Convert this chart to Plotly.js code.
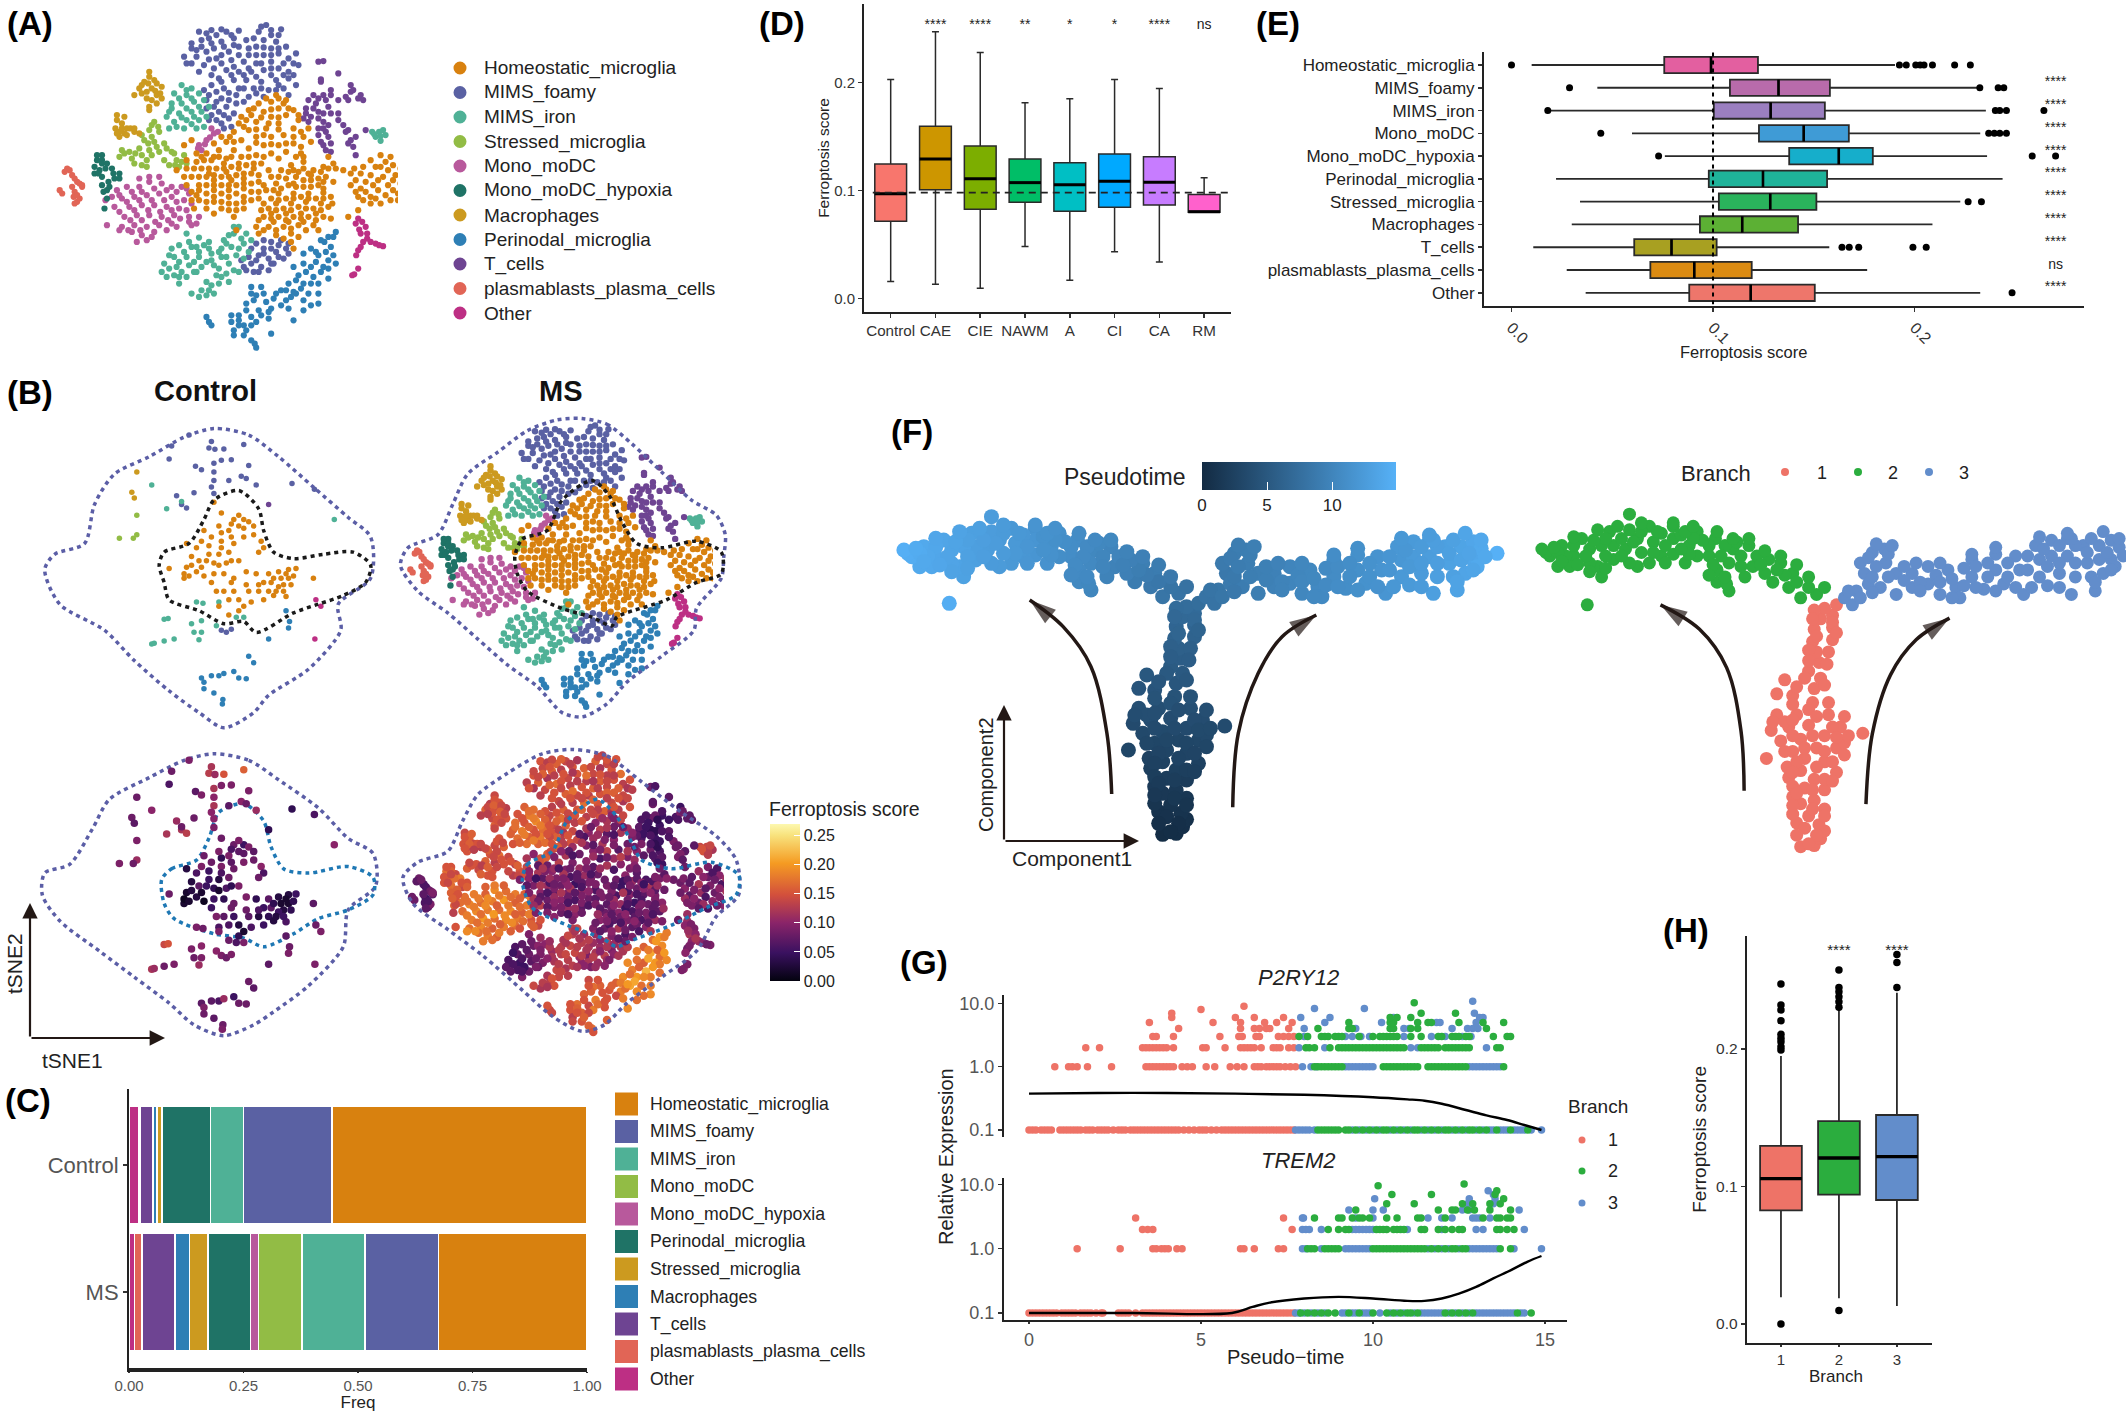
<!DOCTYPE html>
<html><head><meta charset="utf-8">
<script src="https://cdn.plot.ly/plotly-3.0.1.min.js"></script>
<style>html,body{margin:0;padding:0;background:#fff}#c{width:2128px;height:1413px}</style></head>
<body><div id="c"></div>
<script>
const W=2128,H=1413,FONT='"Liberation Sans",Arial,Helvetica,sans-serif';
const homeostatic=[[520,310,10],[545,305,12],[570,310,9],[590,330,11],[560,325,8],[530,335,13],[505,345,10],[575,345,12],[545,350,7],[600,360,9],[515,365,11],[480,370,14],[560,370,10],[590,385,8],[535,385,12],[500,390,9],[470,395,11],[610,410,10],[570,405,7],[545,410,13],[515,410,10],[485,420,8],[455,425,12],[590,430,9],[560,435,11],[530,435,6],[500,445,10],[470,450,9],[440,450,13],[415,460,8],[575,455,10],[545,460,12],[515,465,7],[485,470,11],[455,475,9],[425,480,10],[395,485,12],[375,505,10],[405,505,7],[435,505,9],[465,500,6],[495,495,11],[525,490,8],[385,530,9],[415,530,11],[445,530,8],[475,525,5],[505,520,9],[400,555,10],[430,555,7],[460,555,9],[490,550,11],[520,545,6],[385,575,12],[415,580,8],[445,580,10],[475,580,6],[505,575,8],[430,605,9],[460,610,11],[490,605,7],[400,600,13],[445,625,8],[475,630,10],[390,625,9],[595,470,9],[610,485,7],[585,495,10],[565,510,8],[600,515,11],[630,510,6],[545,530,9],[575,535,5],[610,540,8],[640,535,12],[660,505,9],[670,490,7],[650,565,9],[625,560,7],[595,560,10],[565,565,6],[535,570,9],[545,595,7],[575,595,11],[605,590,5],[635,595,8],[665,590,10],[660,620,7],[630,625,9],[600,620,6],[570,625,10],[540,625,8],[530,650,10],[560,650,7],[590,650,9],[620,650,6],[650,650,11],[540,680,8],[570,680,12],[600,675,7],[630,675,10],[555,705,9],[585,700,6],[515,680,9],[520,700,11],[590,745,13],[585,725,8],[475,690,12],[470,650,9],[705,520,8],[715,540,10],[730,500,7],[745,480,11],[765,465,9],[785,470,6],[790,495,10],[765,500,8],[745,525,12],[770,530,9],[795,525,6],[815,515,10],[725,565,7],[750,555,11],[780,555,8],[805,550,12],[820,570,9],[800,580,7],[775,585,10],[745,590,8],[715,575,11],[730,600,9],[765,610,6],[800,600,10],[700,650,8],[720,630,11],[370,435,12],[385,420,10],[555,285,10],[575,300,14],[500,330,12],[580,325,8],[495,360,6],[540,370,9],[462,410,7],[605,440,11],[430,470,11],[410,480,9],[450,490,12],[480,490,7],[510,505,9],[540,510,8],[420,520,6],[455,515,10],[490,520,7],[430,540,9],[465,540,12],[400,570,7],[430,570,11],[460,570,8],[490,565,9],[580,515,5],[610,505,7],[555,550,9],[590,550,6],[625,540,10],[650,545,7],[560,580,11],[590,580,8],[620,580,6],[650,578,9],[555,610,8],[585,610,5],[615,605,9],[645,610,7],[545,640,10],[575,640,8],[605,640,7],[635,640,9],[550,665,6],[580,665,10],[610,665,8]];
const homeostaticExtra=[[535,295,11],[560,295,9],[510,325,8],[545,328,12],[600,345,10],[485,350,7],[525,352,11],[560,352,6],[620,385,9],[490,380,12],[515,388,7],[560,388,9],[605,395,8],[445,410,10],[530,405,9],[590,410,12],[625,425,7],[470,425,6],[515,428,11],[545,432,8],[575,430,13],[430,430,9],[605,460,10],[395,460,7],[440,470,6],[500,470,9],[530,470,11],[560,475,6],[375,480,10],[405,470,12],[465,470,8],[355,510,9],[390,505,5],[420,505,11],[450,505,9],[480,505,7],[510,490,6],[370,530,7],[400,530,12],[430,525,8],[460,530,10],[490,535,6],[520,525,9],[375,555,9],[415,555,6],[445,555,12],[475,555,7],[505,550,10],[395,585,8],[430,590,10],[460,590,6],[490,590,9],[520,575,7],[385,600,11],[415,605,7],[445,605,9],[475,610,11],[505,600,6],[415,625,9],[460,630,6],[430,640,10],[490,625,8],[610,470,8],[590,510,7],[620,520,10],[645,515,6],[655,530,11],[530,555,9],[560,530,7],[595,530,9],[625,525,5],[670,545,8],[640,555,10],[610,560,6],[580,555,12],[550,570,8],[520,595,9],[530,610,7],[560,600,10],[590,595,6],[620,595,9],[650,595,7],[668,610,11],[645,630,6],[615,625,8],[585,630,10],[555,630,7],[525,630,11],[520,660,8],[545,655,9],[575,660,6],[605,655,10],[635,660,7],[665,655,9],[530,690,7],[555,690,10],[585,685,8],[615,690,6],[640,690,12],[570,715,7],[600,710,9],[690,510,8],[712,505,9],[725,520,7],[755,500,10],[775,485,6],[805,505,11],[780,510,8],[735,545,9],[760,540,7],[790,540,10],[815,535,12],[705,555,8],[735,575,10],[760,570,6],[790,570,9],[815,590,7],[755,595,11],[785,600,8],[720,590,9],[745,610,7],[660,470,8],[675,505,10],[650,500,9]];
const foamy=[[400,95,15],[415,100,13],[435,105,16],[455,95,14],[480,92,12],[470,115,15],[445,125,13],[425,130,16],[405,120,14],[535,75,13],[565,88,15],[520,95,16],[545,105,14],[530,120,12],[555,125,15],[575,140,17],[545,145,13],[515,140,14],[385,145,15],[370,170,13],[395,170,16],[415,155,12],[480,140,15],[460,155,14],[500,165,13],[530,165,16],[560,160,15],[580,175,13],[545,185,14],[515,190,16],[490,185,15],[465,180,13],[435,175,17],[410,195,14],[385,190,12],[430,205,15],[455,210,16],[480,215,14],[505,215,13],[530,210,15],[560,205,16],[590,190,12],[440,235,14],[470,240,13],[495,240,17],[525,245,15],[555,240,14],[580,235,12],[595,255,15],[570,265,13],[540,270,16],[510,265,14],[480,265,15],[450,265,16],[425,255,13],[420,285,14],[445,295,17],[475,285,15],[500,290,13],[530,290,15],[430,320,14],[455,320,16],[475,310,13],[425,345,15],[450,345,12],[470,340,14],[445,370,13],[465,380,15],[435,360,16],[580,285,14],[555,270,12],[490,800,10],[505,790,12],[500,770,9],[520,765,12],[530,745,11],[545,725,13],[565,720,10],[575,745,12],[555,755,9],[540,775,13],[525,800,11],[560,770,10],[580,760,12],[510,815,9],[545,790,11],[530,720,10]];
const foamyExtra=[[425,90,14],[445,88,16],[465,105,13],[420,115,15],[385,130,14],[405,140,16],[430,145,13],[450,140,15],[470,135,12],[495,120,16],[510,115,14],[545,90,15],[560,105,13],[525,80,14],[500,145,17],[530,142,15],[560,145,13],[595,160,15],[570,190,16],[545,165,14],[515,165,12],[480,165,13],[445,165,15],[420,178,16],[395,150,14],[375,190,15],[400,215,13],[425,225,15],[445,190,14],[470,200,17],[500,205,15],[525,190,13],[545,205,16],[580,215,14],[570,225,15],[545,225,13],[515,230,16],[490,225,14],[465,225,15],[445,245,13],[435,275,15],[460,278,14],[490,265,16],[525,265,13],[560,255,15],[590,225,14],[600,195,13],[410,270,15],[415,300,14],[435,305,16],[460,300,13],[490,305,15],[515,280,14],[415,325,15],[440,335,13],[460,355,15],[420,360,14],[450,385,13],[485,780,11],[495,810,10],[515,780,13],[530,760,10],[545,745,12],[560,735,11],[570,775,12],[550,790,9],[540,810,10],[520,815,11],[580,730,13],[505,745,12],[515,730,11]];
const iron=[[365,255,16],[385,265,17],[350,280,15],[375,285,18],[400,280,16],[345,310,17],[365,310,15],[390,305,19],[340,335,16],[360,340,18],[385,335,15],[405,335,17],[350,365,17],[375,360,16],[400,360,18],[415,350,15],[340,385,15],[370,385,17],[395,385,16],[375,700,9],[400,712,11],[360,735,7],[385,740,8],[410,735,10],[345,745,6],[350,770,7],[375,770,8],[400,770,9],[425,760,11],[330,790,6],[355,800,5],[380,795,7],[405,800,9],[325,815,7],[350,825,6],[375,830,8],[360,850,9],[430,795,12],[445,770,13],[465,740,14],[490,730,13],[450,720,12],[470,700,13],[495,700,11],[480,680,14],[500,755,12],[475,765,14],[460,790,13],[435,825,14],[455,820,12],[470,810,13],[440,850,14],[420,870,13],[400,890,12],[430,880,15],[445,745,13],[425,780,12],[395,815,8],[415,845,12],[762,395,14],[775,405,12],[755,410,15],[765,422,13],[748,395,14],[812,425,16]];
const ironExtra=[[375,270,17],[360,295,15],[385,295,18],[410,300,16],[345,325,17],[375,325,16],[400,320,18],[420,320,15],[335,350,16],[365,352,18],[390,350,15],[410,380,17],[355,380,16],[385,372,18],[380,725,8],[395,740,10],[370,755,7],[340,765,5],[360,785,6],[390,785,8],[415,785,10],[340,805,6],[365,815,5],[390,815,9],[335,830,7],[360,830,6],[420,745,12],[440,755,13],[455,730,12],[480,745,13],[460,705,14],[485,715,12],[505,720,13],[470,680,13],[455,770,14],[490,775,13],[440,805,13],[460,845,13],[445,830,14],[425,855,15],[405,870,13],[415,885,12],[385,880,14],[400,755,9],[420,725,11],[765,408,13],[752,402,15],[770,390,14],[810,435,15],[818,422,14],[480,815,12]];
const stressed=[[310,365,15],[300,390,14],[320,395,16],[290,420,15],[310,425,17],[330,430,14],[280,445,16],[300,450,13],[320,455,15],[260,455,15],[240,470,16],[265,475,14],[295,480,15],[345,455,13],[355,480,15],[370,465,14],[360,500,16],[340,495,13],[285,495,15],[305,410,14]];
const stressedExtra=[[305,375,15],[318,380,14],[285,405,16],[298,430,14],[315,440,15],[272,460,13],[250,460,15],[285,465,16],[305,465,14],[335,445,15],[350,460,16],[352,495,14],[375,490,13],[330,480,14],[365,485,15],[270,490,16],[295,500,15],[245,450,14]];
const monoMoDC=[[235,570,17],[255,560,18],[280,560,16],[300,545,19],[325,550,17],[345,560,18],[365,560,16],[380,580,17],[245,595,19],[270,590,17],[295,585,18],[320,580,20],[345,590,16],[370,600,18],[230,620,17],[260,620,19],[285,615,18],[310,615,17],[335,620,19],[360,625,16],[250,650,18],[275,645,20],[300,645,17],[325,650,19],[350,645,18],[245,680,17],[270,675,19],[295,680,16],[320,675,18],[345,670,17],[285,705,18],[305,710,16],[265,695,17],[240,690,19],[380,650,15],[395,670,14],[385,675,16],[400,435,15],[415,420,16],[430,400,14],[425,385,15],[405,450,17],[280,535,16],[215,675,15],[275,725,18]];
const monoExtra=[[265,575,18],[240,585,17],[285,575,19],[310,565,18],[335,570,17],[355,575,16],[375,565,18],[255,605,18],[280,600,19],[305,600,16],[330,600,18],[355,605,17],[385,610,16],[240,635,18],[270,630,17],[298,630,20],[322,635,19],[345,630,16],[375,630,18],[262,660,17],[285,660,18],[312,665,16],[338,660,19],[362,655,17],[258,690,19],[282,690,17],[310,695,18],[335,690,16],[295,720,17],[355,680,15],[380,665,16],[400,650,15],[412,432,16],[422,412,14],[398,445,15],[438,395,16],[212,600,16],[225,590,17],[300,530,18],[320,530,16]];
const hypoxia=[[205,465,15],[195,480,17],[215,490,14],[200,510,16],[225,505,18],[240,520,15],[205,530,17],[230,535,14],[205,555,16],[215,570,15],[210,625,13],[215,595,14],[190,520,15]];
const hypoxiaExtra=[[205,480,16],[190,500,15],[212,505,17],[228,520,15],[198,520,14],[218,545,16],[205,490,14],[240,535,16],[220,560,15],[208,575,16],[195,465,15]];
const macrophages=[[300,215,14],[310,240,15],[290,245,13],[280,265,16],[305,265,14],[325,260,13],[315,285,15],[295,295,14],[270,285,13],[325,295,15],[300,320,16],[300,330,14],[235,345,14],[245,370,16],[232,385,15],[255,385,14],[270,395,13],[240,410,15],[250,400,16]];
const macroExtra=[[300,230,15],[285,255,14],[298,250,16],[315,250,14],[295,275,15],[285,280,13],[312,272,16],[322,280,14],[305,300,15],[315,310,14],[235,360,15],[250,350,16],[240,395,14],[262,385,15],[245,385,16],[270,385,14],[235,400,15],[255,405,13],[280,400,14]];
const perinodal=[[675,695,18],[660,710,20],[645,720,17],[665,740,19],[625,745,16],[610,760,18],[640,765,21],[660,780,17],[675,790,19],[650,800,20],[625,800,16],[600,825,18],[630,830,22],[660,835,17],[580,850,19],[610,850,20],[640,850,18],[565,870,16],[595,880,21],[620,880,17],[575,900,18],[640,910,19],[550,895,15],[530,880,16],[505,860,14],[515,885,17],[545,925,15],[520,930,18],[495,910,16],[505,950,14],[480,945,17],[465,965,15],[490,975,16],[515,965,18],[540,955,15],[470,990,13],[490,1005,15],[420,965,14],[512,1030,17],[545,1000,16],[590,960,19],[610,930,17]];
const periExtra=[[670,710,18],[652,725,20],[635,755,18],[655,755,16],[670,765,20],[610,790,17],[635,785,21],[660,805,18],[590,800,19],[615,815,16],[645,815,20],[595,840,17],[625,850,19],[575,870,18],[605,865,21],[555,880,16],[585,890,17],[610,900,19],[640,880,18],[535,905,15],[510,900,16],[525,860,15],[565,915,14],[495,930,15],[480,960,16],[505,975,14],[525,945,17],[465,945,15],[480,975,15],[495,990,16],[540,935,15],[470,1005,14],[505,1020,16],[580,925,18],[415,950,15],[425,975,14],[515,1042,15],[590,875,20],[625,915,17],[505,880,15]];
const tCells=[[640,185,8],[650,183,6],[680,220,7],[645,245,8],[705,255,5],[720,295,7],[695,290,6],[665,285,5],[640,295,8],[620,300,6],[705,275,9],[730,300,7],[615,340,6],[640,335,4],[660,320,5],[680,340,7],[620,365,6],[650,365,5],[690,375,9],[715,410,7],[640,405,8],[660,410,6],[650,435,7],[665,455,5],[700,430,9],[655,395,4],[715,465,8],[735,390,7]];
const tExtra=[[645,238,7],[665,270,6],[650,285,8],[630,285,6],[710,270,8],[725,285,7],[700,300,6],[680,300,5],[655,300,4],[635,310,5],[615,325,7],[630,325,5],[650,340,4],[665,340,6],[625,350,5],[640,355,6],[610,355,7],[660,375,5],[700,390,8],[705,420,9],[650,385,4],[645,425,6],[665,430,7],[655,450,5],[640,385,6],[710,440,7],[680,360,6],[695,395,8]];
const plasmaCells=[[135,505,8],[145,525,6],[155,545,9],[165,560,7],[150,575,5],[125,580,8],[155,605,7],[160,595,9],[148,590,6]];
const plasmaExtra=[[130,515,7],[140,510,8],[150,535,6],[160,550,8],[145,560,7],[155,585,6],[120,570,8],[150,610,7],[165,555,9]];
const otherCells=[[720,655,11],[735,680,9],[725,700,12],[730,725,10],[720,750,8],[745,725,11],[770,738,9],[755,730,10],[712,822,10],[720,805,9]];
const otherExtra=[[715,670,10],[728,665,9],[722,688,11],[738,700,10],[725,740,9],[738,715,12],[762,735,8],[716,765,10],[708,825,9]];
const mainClusters=[foamy.concat(foamyExtra),iron.concat(ironExtra),stressed.concat(stressedExtra),monoMoDC.concat(monoExtra),hypoxia.concat(hypoxiaExtra),macrophages.concat(macroExtra),perinodal.concat(periExtra),tCells.concat(tExtra),plasmaCells.concat(plasmaExtra),otherCells.concat(otherExtra),homeostatic.concat(homeostaticExtra)];
// ---------- Control sample, coordinates: [x, y, score x100]
const ctrlHomeo=[[430,305,9],[470,345,8],[490,345,5],[500,350,9],[480,360,7],[460,370,9],[445,375,4],[425,385,8],[405,395,9],[395,410,6],[420,405,5],[445,395,9],[465,385,7],[490,385,9],[510,380,8],[525,395,10],[530,410,6],[420,425,5],[440,425,3],[460,420,8],[385,430,3],[400,440,7],[430,445,4],[455,445,6],[480,440,9],[375,455,2],[395,465,3],[430,470,5],[450,470,4],[370,480,2],[340,458,8],[410,475,1],[495,465,9],[515,470,4],[540,470,7],[560,465,3],[580,460,3],[595,458,5],[565,480,2],[580,480,2],[570,495,3],[585,495,4],[530,490,5],[545,490,7],[540,510,4],[560,500,5],[520,510,3],[495,495,8],[470,480,8],[630,480,7],[505,535,6],[550,520,3],[575,522,6],[480,530,3],[470,510,5],[450,510,7],[435,510,9],[480,555,4],[460,565,8],[490,545,2],[445,330,8],[465,355,6],[480,335,9],[490,365,7],[440,360,9],[410,370,8],[375,400,3],[415,440,5],[445,410,6],[470,400,8],[510,360,7],[520,420,8],[440,450,2],[465,440,4],[385,450,3],[405,455,2],[370,470,1],[425,490,5],[380,475,2],[520,495,6],[550,480,4],[575,470,2],[555,510,3],[530,530,5],[500,510,7],[465,490,8],[570,510,5],[590,475,4],[460,530,6],[440,545,9]];
const ctrlFoamy=[[380,150,9],[425,165,12],[420,180,13],[432,183,11],[450,182,15],[490,172,16],[345,175,8],[340,205,6],[393,222,7],[405,230,9],[430,215,12],[430,235,10],[430,255,12],[425,270,10],[430,285,10],[445,208,9],[465,207,9],[500,220,9],[460,255,7],[485,245,10],[495,250,8],[515,265,11],[355,290,11],[365,310,12],[375,318,13],[390,283,8],[587,262,4],[632,275,6],[445,600,9],[455,605,8],[465,598,9]];
const ctrlIron=[[305,265,10],[365,303,8],[335,320,12],[672,345,10],[395,535,9],[408,538,8],[440,535,6],[330,575,14],[338,573,15],[385,585,9],[405,578,10],[390,605,8],[405,605,9],[400,622,11],[350,620,9],[330,625,8],[305,632,12],[310,630,11],[435,590,10],[490,570,9],[475,570,6]];
const ctrlStressed=[[275,335,9],[275,380,11],[268,388,8],[240,388,9]];
const ctrlMacro=[[265,282,8],[270,295,7],[275,235,8]];
const ctrlTcell=[[540,310,4]];
const ctrlOther=[[645,545,9],[635,530,8],[633,620,9]];
const ctrlPeri=[[405,710,7],[410,720,9],[425,705,7],[440,705,6],[450,700,11],[470,695,5],[480,710,8],[495,712,8],[430,745,7],[448,760,8],[447,770,9],[510,675,7],[500,660,8],[575,555,7],[582,580,8],[580,595,9],[540,620,7],[410,735,8]];
const ctrlClusters=[ctrlFoamy,ctrlIron,ctrlStressed,ctrlMacro,ctrlTcell,ctrlOther,ctrlPeri,ctrlHomeo];
const tsneColors=['#5a61a3','#4fb196','#92bc45','#b8599c','#1f7366','#cc9a1f','#2e7fb5','#6e4492','#e16556','#bd2f84','#d8810f'];
const ctrlColors=['#5a61a3','#4fb196','#92bc45','#cc9a1f','#6e4492','#bd2f84','#2e7fb5','#d8810f'];
// ---------- region outlines in panel B
const outlineCtrlTop=[[430,135],[500,150],[560,200],[630,270],[700,340],[745,385],[745,480],[680,540],[685,600],[620,690],[540,750],[510,790],[450,825],[400,790],[340,740],[270,670],[210,600],[120,540],[90,460],[110,425],[170,400],[190,310],[230,240],[300,200],[370,155],[430,135]];
const outlineMsTop=[[1170,112],[1220,125],[1270,170],[1330,235],[1390,300],[1440,335],[1458,380],[1455,430],[1450,480],[1400,550],[1395,600],[1330,660],[1260,720],[1220,770],[1170,800],[1130,790],[1080,730],[1020,680],[960,620],[900,560],[840,510],[805,450],[820,410],[880,380],[910,310],[940,240],[1000,190],[1060,140],[1120,115],[1170,112]];
const outlineCtrlBot=[[430,885],[500,900],[560,945],[640,1010],[700,1080],[750,1115],[755,1190],[700,1245],[690,1330],[620,1420],[550,1480],[510,1510],[450,1535],[390,1510],[340,1460],[270,1400],[200,1340],[120,1270],[85,1210],[90,1160],[140,1140],[185,1060],[220,990],[300,940],[370,900],[430,885]];
const outlineMsBot=[[1150,875],[1220,890],[1290,950],[1370,1020],[1440,1075],[1480,1130],[1485,1210],[1440,1260],[1400,1340],[1330,1400],[1260,1460],[1215,1510],[1170,1525],[1110,1490],[1050,1430],[970,1350],[900,1290],[830,1230],[810,1170],[840,1135],[900,1110],[930,1040],[960,980],[1020,930],[1090,885],[1150,875]];
const innerCtrlTop=[[320,450],[330,420],[380,400],[410,345],[430,300],[480,278],[520,320],[530,370],[550,420],[590,435],[650,425],[710,420],[745,450],[735,490],[690,520],[640,540],[590,560],[515,605],[490,580],[450,585],[400,555],[340,530],[330,490],[320,450]];
const innerMsTop=[[1035,430],[1050,390],[1100,370],[1130,300],[1190,255],[1225,290],[1250,350],[1280,400],[1330,410],[1400,395],[1450,420],[1450,470],[1400,490],[1340,530],[1240,570],[1230,590],[1190,570],[1130,550],[1060,510],[1040,470],[1035,430]];
const innerCtrlBot=[[325,1175],[345,1150],[395,1130],[420,1080],[440,1020],[490,1000],[530,1040],[545,1100],[570,1150],[620,1160],[700,1145],[750,1170],[750,1210],[700,1245],[640,1265],[590,1300],[530,1330],[490,1310],[430,1300],[350,1265],[330,1230],[325,1175]];
const innerMsBot=[[1050,1180],[1060,1140],[1110,1110],[1140,1040],[1200,990],[1240,1030],[1270,1090],[1290,1130],[1350,1150],[1430,1135],[1485,1165],[1480,1210],[1420,1240],[1350,1280],[1260,1320],[1240,1330],[1210,1310],[1140,1280],[1070,1240],[1050,1180]];
// ---------- panel A / C legends
const legendA=['Homeostatic_microglia','MIMS_foamy','MIMS_iron','Stressed_microglia','Mono_moDC','Mono_moDC_hypoxia','Macrophages','Perinodal_microglia','T_cells','plasmablasts_plasma_cells','Other'];
const legendC=['Homeostatic_microglia','MIMS_foamy','MIMS_iron','Mono_moDC','Mono_moDC_hypoxia','Perinodal_microglia','Stressed_microglia','Macrophages','T_cells','plasmablasts_plasma_cells','Other'];
const legendColors=['#d8810f','#5a61a3','#4fb196','#92bc45','#b8599c','#1f7366','#cc9a1f','#2e7fb5','#6e4492','#e16556','#bd2f84'];
// ---------- panel C (stack order left to right)
const cStackNames=['Other','plasmablasts_plasma_cells','T_cells','Macrophages','Stressed_microglia','Perinodal_microglia','Mono_moDC_hypoxia','Mono_moDC','MIMS_iron','MIMS_foamy','Homeostatic_microglia'];
const cStackColors=['#bd2f84','#e16556','#6e4492','#2e7fb5','#cc9a1f','#1f7366','#b8599c','#92bc45','#4fb196','#5a61a3','#d8810f'];
const cControl=[.022,.003,.027,.009,.011,.106,0,0,.072,.193,.557];
const cMS=[.012,.016,.072,.032,.040,.093,.018,.095,.137,.161,.324];
// ---------- panel D
const dCats=['Control','CAE','CIE','NAWM','A','CI','CA','RM'];
const dLow=[.0155,.013,.0093,.048,.0167,.0433,.0337,.0798];
const dQ1=[.0714,.1008,.0825,.089,.0807,.0844,.0866,.0798];
const dMed=[.097,.1292,.111,.1073,.1054,.1085,.1076,.0804];
const dQ3=[.1246,.1595,.1413,.1292,.1258,.1338,.1314,.0964];
const dHigh=[.203,.2473,.2281,.1815,.1852,.203,.1947,.1119];
const dColors=['#F8766D','#CD9600','#7CAE00','#00BE67','#00BFC4','#00A9FF','#C77CFF','#FF61CC'];
const dSig=['','****','****','**','*','*','****','ns'];
const dRef=.098;
// ---------- panel E
const eCats=['Homeostatic_microglia','MIMS_foamy','MIMS_iron','Mono_moDC','Mono_moDC_hypoxia','Perinodal_microglia','Stressed_microglia','Macrophages','T_cells','plasmablasts_plasma_cells','Other'];
const eLow=[.01,.0426,.018,.0598,.0761,.0221,.034,.0299,.0108,.0274,.0368];
const eQ1=[.0758,.1084,.1004,.1228,.1378,.0979,.1029,.0935,.0609,.0689,.0882];
const eMed=[.099,.1325,.1286,.145,.1624,.1248,.1284,.1145,.0794,.0907,.1187];
const eQ3=[.1223,.158,.1555,.1674,.1793,.1566,.1513,.1422,.1018,.1192,.1505];
const eHigh=[.1903,.2318,.2354,.2326,.236,.2437,.2227,.2089,.1577,.1765,.2326];
const eColors=['#e35fa0','#b86bab','#9b7fc0','#3f9bd6','#16aecb','#1fb39a','#2ab35c','#5cb034','#a8a021','#db8b12','#ee766b'];
const eOut=[[0,.1925,.1959,.2006,.2028,.2047,.2089,.2199,.2277],[.0288,.2324,.2415,.2443],[.018,.2401,.2423,.2456,.2642],[.0443,.2368,.2396,.2423,.2456],[.073,.2584,.27],[],[.2266,.2332],[],[.164,.1676,.1723,.1992,.2058],[],[.2484]];
const eSig=['****','****','****','****','****','****','****','****','ns','****'];
const eSigRows=[.78,1.78,2.78,3.78,4.78,5.78,6.78,7.78,8.8,9.78];
const eRef=.1;
// ---------- panel F: trajectory [Component1, Component2, pseudotime]
const stem=[[355,1303,.2],[372,1300,.3],[380,1280,.5],[385,1258,.7],[350,1235,.8],[378,1240,.9],[365,1215,1.0],[345,1210,1.1],[385,1195,1.3],[355,1180,1.5],[372,1170,1.6],[345,1160,1.7],[385,1140,1.9],[360,1135,2.0],[340,1105,2.2],[372,1110,2.3],[400,1090,2.5],[355,1085,2.5],[338,1075,2.6],[385,1060,2.8],[360,1050,2.9],[312,1050,3.0],[345,1030,3.0],[400,1020,3.1],[375,1020,3.1],[330,1000,3.3],[410,1005,3.3],[355,995,3.4],[385,985,3.5],[318,970,3.5],[340,960,3.7],[365,955,3.7],[405,960,3.7],[433,978,3.6],[325,925,4.0],[350,925,4.0],[390,925,4.0],[370,890,4.4],[345,870,4.6],[325,865,4.6],[372,850,4.8],[335,825,5],[380,820,5.1],[365,800,5.3],[378,775,5.6],[375,745,5.9],[370,715,6.2],[395,710,6.2],[372,680,6.5],[395,675,6.5],[380,650,6.9],[395,640,7.0],[385,620,7.3],[400,610,7.4],[372,625,7.2],[395,660,6.9],[370,650,6.8],[375,700,6.4],[400,690,6.3],[365,740,5.9],[390,745,5.9],[388,780,5.6],[365,770,5.6],[360,820,5.1],[385,840,4.9],[350,845,4.8],[345,895,4.4],[365,910,4.3],[390,890,4.3],[335,945,3.9],[320,945,3.8],[345,940,3.9],[375,930,3.9],[410,930,3.9],[395,960,3.7],[345,985,3.5],[370,985,3.5],[400,990,3.4],[415,985,3.4],[335,1030,3.1],[360,1020,3.1],[385,1030,3],[410,1040,3],[350,1060,2.8],[375,1075,2.7],[395,1060,2.8],[345,1090,2.5],[370,1140,2],[345,1130,2.1],[385,1110,2.2],[395,1115,2.2],[350,1150,1.8],[370,1195,1.4],[345,1185,1.5],[360,1250,.8],[385,1215,1.1],[350,1270,.6],[375,1270,.5],[365,1295,.3]];
const leftArm=[[375,580,8],[355,590,8.2],[340,560,8.6],[345,520,9],[320,545,9],[330,490,9.3],[310,520,9.5],[295,500,9.7],[290,440,10],[300,470,9.9],[270,450,10.3],[285,530,9.8],[265,570,10.1],[250,545,10.4],[265,490,10.4],[248,420,10.9],[240,470,10.9],[225,400,11.2],[225,470,11],[215,440,11.4],[210,490,11.5],[195,385,11.6],[195,420,11.8],[195,465,11.8],[180,470,12],[180,405,12],[165,385,12.1],[170,430,12.2],[165,490,12.2],[150,500,12.4],[150,420,12.3],[140,350,12.6],[140,395,12.6],[135,450,12.7],[115,400,13],[120,480,13],[120,440,12.9],[105,530,13.2],[105,440,13.3],[100,500,13.3],[90,490,13.5],[90,450,13.4],[80,420,13.6],[70,470,13.7],[65,500,13.9],[50,500,14],[55,440,14],[40,470,14.4],[35,460,14.5],[30,450,14.7],[87,610,14.5],[365,560,8.1],[350,545,8.5],[335,525,8.9],[325,510,9.2],[315,480,9.5],[305,495,9.6],[280,470,10.1],[280,500,10],[275,430,10.3],[260,440,10.6],[255,470,10.6],[250,510,10.6],[262,550,10.3],[240,440,10.9],[245,495,10.7],[232,425,11],[220,420,11.2],[215,465,11.3],[205,410,11.4],[205,450,11.4],[210,400,11.4],[185,440,11.9],[185,490,11.9],[175,400,12.1],[170,460,12.2],[155,400,12.4],[155,460,12.4],[145,430,12.6],[140,490,12.5],[130,420,12.8],[130,470,12.8],[110,420,13.1],[110,470,13.1],[110,505,13.1],[95,425,13.4],[90,515,13.3],[85,470,13.5],[70,440,13.8],[60,470,13.9],[50,460,14.2],[45,445,14.3],[55,485,14],[75,495,13.7],[70,415,13.7],[100,395,13.3],[125,385,13],[155,375,12.4],[195,375,11.7],[220,385,11.3],[250,400,10.8],[270,420,10.5],[290,420,10.3],[310,455,9.8],[330,470,9.5],[350,495,9],[365,530,8.6],[385,560,7.9],[240,525,10.6],[260,530,10.5]];
const rightArm=[[410,590,8],[425,570,8.3],[420,610,8],[435,520,8.6],[445,460,9],[460,450,9.2],[462,490,9.2],[440,550,8.8],[455,560,9],[475,520,9.3],[475,580,9.2],[495,520,9.6],[495,560,9.6],[515,500,10],[515,550,10],[530,580,10.2],[540,510,10.3],[550,560,10.5],[555,590,10.5],[570,480,10.8],[570,530,10.8],[585,565,11],[600,465,11.2],[600,510,11.2],[610,550,11.4],[625,470,11.6],[630,510,11.7],[635,580,11.8],[650,440,12],[655,480,12],[655,530,12.2],[670,425,12.3],[670,470,12.4],[680,520,12.5],[690,420,12.7],[690,470,12.7],[695,580,12.9],[700,530,12.9],[710,440,13],[715,490,13.2],[725,570,13.3],[730,440,13.4],[735,520,13.5],[745,425,13.7],[745,480,13.7],[755,445,14],[750,500,14],[775,460,14.8],[415,570,8.1],[430,590,8.3],[445,575,8.6],[445,530,8.7],[430,490,8.8],[440,475,8.9],[450,500,9],[465,465,9.2],[465,530,9.2],[485,540,9.4],[485,500,9.4],[505,545,9.8],[505,570,9.8],[525,525,10.1],[530,545,10.2],[545,535,10.3],[545,590,10.4],[560,505,10.6],[560,555,10.6],[575,500,10.8],[575,560,10.9],[590,490,11],[590,530,11],[600,570,11.2],[615,490,11.4],[615,530,11.4],[625,560,11.5],[640,470,11.8],[640,510,11.8],[645,560,12],[660,450,12],[665,500,12.2],[665,555,12.3],[680,440,12.4],[680,490,12.5],[680,560,12.5],[700,440,12.8],[700,490,12.8],[695,420,12.8],[715,460,13],[720,530,13.1],[720,420,13.1],[730,480,13.3],[725,545,13.3],[740,460,13.5],[745,510,13.6],[755,420,13.9],[760,470,14],[735,400,13.6],[655,415,12.1],[690,405,12.6],[600,445,11.2],[570,465,10.9],[530,490,10.2],[500,490,9.7],[470,440,9.3],[450,435,9.1]];
const arrowL1=[[291,1182],[285,1000],[265,800],[230,680],[188,600]];
const arrowL2=[[443,1222],[450,1000],[475,820],[505,710],[548,645]];
const arrowR1=[[284,1143],[280,970],[262,790],[228,680],[179,610]];
const arrowR2=[[437,1181],[445,980],[468,810],[500,710],[542,648]];
const pseudoTicks=[0,5,10];
const branchColors=['#ee7367','#2bad3e','#628dcb'];
// ---------- panel G: rows of pseudotime values, by expression level
const p2Branch1=[[.1,[0,.1,.2,.35,.45,.55,.65,.9,1,1.1,1.2,1.3,1.4,1.5,1.65,1.75,1.85,2,2.1,2.2,2.3,2.45,2.6,2.7,2.8,2.95,3.05,3.15,3.25,3.35,3.45,3.55,3.65,3.75,3.85,3.95,4.05,4.15,4.25,4.35,4.5,4.65,4.8,4.95,5.05,5.15,5.3,5.45,5.6,5.7,5.8,5.9,6,6.1,6.2,6.3,6.4,6.5,6.6,6.7,6.8,6.9,7,7.1,7.2,7.3,7.4,7.5,7.6,7.7]],[1,[.75,1.15,1.26,1.4,1.7,2.4,3.4,3.5,3.6,3.7,3.8,3.9,4,4.1,4.2,4.45,4.6,4.75,5.15,5.4,5.85,6.05,6.25,6.55,6.65,6.75,6.9,7,7.1,7.2,7.3,7.45,7.6,7.75]],[2,[1.65,2.05,3.3,3.4,3.5,3.6,3.7,3.8,3.9,4,4.2,5.05,5.15,5.7,6.15,6.25,6.35,6.45,6.55,6.75,7.1,7.2,7.3,7.55,7.7]],[3,[3.6,3.7,4.2,5.55,6.1,6.2,6.6,6.7,7.25,7.4,7.55,7.7]],[4,[4.35,6.15,6.55,6.7,6.9,7,7.55]],[5,[3.5,5.35,6.15,6.85,7.2,7.65]],[6,[4.15,6,6.55,7.4]],[7,[4.15]],[8,[5]],[9,[6.25]]];
const p2Branch2=[[.1,[8.4,8.5,8.6,8.7,8.8,8.9,9,9.2,9.3,9.5,9.7,9.9,10.1,10.3,10.4,10.6,10.8,11,11.2,11.3,11.5,11.7,11.9,12.1,12.2,12.4,12.6,12.8,12.9,13.1,13.3,13.6,14,14.5]],[1,[8.3,8.4,8.5,8.6,8.7,8.8,8.9,9,9.1,10.3,10.4,10.5,10.6,10.7,10.8,10.9,11,11.1,11.2,11.3,11.6,11.7,11.8,11.9,12,12.1,12.2,12.3,12.4,12.5,12.6,12.7,13.8]],[2,[8.05,8.15,8.3,8.75,9,9.1,9.2,9.3,9.4,9.5,9.6,9.7,9.8,9.9,10,10.1,10.2,10.3,10.4,10.5,10.6,10.7,10.8,10.9,11.4,11.5,11.6,11.7,11.8,11.9,12.1,12.2,12.3,12.4,12.5,12.6,12.7,12.8,13.6,13.7]],[3,[7.85,8.1,8.5,8.6,8.7,8.9,9,9.1,9.6,10,10.2,10.3,10.4,10.5,10.6,10.7,11.1,11.4,11.9,12,12.3,12.4,12.5,12.7,12.8,13.5,13.9,14]],[4,[8.4,9.3,9.4,10.5,10.6,11.1,11.3,13.3]],[5,[9.3,10.5,10.6,11.3,11.6,11.7,12.5,13.2,13.8]],[6,[10.5,10.7,11.1]],[7,[11.4,12.4]],[10.2,[11.2]]];
const p2Branch3=[[.1,[7.75,7.85,7.95,8.05,8.15,8.3,9.4,9.6,9.8,10,10.2,10.5,10.7,10.9,11.1,11.4,11.6,11.8,12,12.3,12.5,12.7,13,13.2,13.4,13.5,13.7,13.8,13.9,14.1,14.2,14.3,14.4,14.6,14.9]],[1,[7.95,8.2,8.35,9.2,9.3,9.4,9.5,9.6,9.7,9.8,9.9,10,12.8,12.9,13,13.1,13.2,13.3,13.4,13.5,13.6,13.7]],[2,[7.85,8.6,11.1,11.3,13.3]],[3,[8,9.2,9.4,9.65,9.9,10.9,11.7,12.1,12.6,12.85]],[4,[8,9.5,10.9,11.05,12.3,12.75,12.9,13.05]],[5,[8.6,10.25,11.85,11.95,13]],[6,[7.9,8.75,10.6,13.1,13.2]],[7,[12.95]],[8.3,[8.3,9.75]],[10.8,[12.9]]];
const trBranch1=[[.1,[0,.1,.2,.3,.4,.5,.6,.7,.8,.95,1.05,1.15,1.25,1.35,1.5,1.6,1.7,1.8,1.95,2.1,2.15,2.6,2.7,2.8,2.9,3.1,3.3,3.4,3.5,3.6,3.7,3.8,3.9,4,4.1,4.2,4.3,4.4,4.5,4.6,4.7,4.8,4.9,5,5.1,5.2,5.3,5.4,5.5,5.6,5.7,5.8,5.9,6,6.1,6.2,6.3,6.4,6.5,6.6,6.7,6.8,6.9,7,7.1,7.2,7.3,7.4,7.5,7.6,7.7]],[1,[1.4,2.65,3.6,3.7,3.85,3.95,4.05,4.3,4.45,6.15,6.25,6.55,7.25,7.4]],[2,[3.3,3.45,3.6,7.65]],[3,[3.1,7.4]]];
const trBranch2=[[.1,[7.9,8.1,8.3,8.5,8.7,8.9,9.3,9.6,10,10.4,10.6,10.8,11,11.1,11.3,12.1,12.3,12.5,12.7,12.9,14.2,14.6]],[1,[8.1,8.2,8.3,8.6,8.7,8.8,8.9,9,10,10.1,10.2,10.3,10.4,10.5,10.6,10.7,10.8,10.9,11,11.1,11.2,11.3,11.4,11.5,11.7,11.9,12.1,12.3,12.4,12.6,12.7,13.7,14]],[2,[8.7,9,9.2,9.3,10.1,10.2,10.3,10.4,10.6,10.7,10.8,10.9,11.4,11.5,11.9,12.1,12.3,12.5,12.6,13.6,13.7,13.9,14.1]],[3,[8.3,9,9.1,9.4,9.6,9.7,9.9,10.4,10.7,11.3,11.4,12.1,13.2,13.6,13.7,13.9,14]],[4,[9.5,11.9,12.3,12.4,12.75,12.95,13.4,14]],[5,[10.4,11.2,12.6,12.9,13.4,13.7]],[6,[13.8]],[7,[10.55,11.7,13.55]],[8,[13.6]],[9.6,[10.15]],[10.2,[12.65]]];
const trBranch3=[[.1,[7.75,7.85,8,8.2,8.4,8.6,9.1,9.2,9.4,9.5,9.7,9.8,9.9,10.2,10.5,10.7,10.9,11.2,11.4,11.5,11.6,11.7,11.8,11.9,12,12.2,12.4,12.6,12.8,13,13.1,13.2,13.3,13.4,13.5,13.6,13.7,13.8,13.9,14,14.1,14.3,14.4]],[1,[7.95,8.05,8.5,9.2,9.3,9.4,9.5,9.6,9.7,9.8,9.9,11.6,11.8,12,12.2,12.5,12.8,12.9,13,13.1,13.2,13.3,13.4,13.5,13.6,14.1,14.9]],[2,[7.95,8.05,8.15,8.5,9.4,9.5,9.6,9.7,9.8,9.9,10,11,12,13,13.2,14.4]],[3,[7.95,7.98,9.5,10,11.6,12,12.3,12.9,13,13.1,13.4]],[4,[9.3,10,10.3,12.6,12.8,14.25]],[5,[12.75,13.5]],[6,[10.05,12.8,13.55]],[7,[13.5]],[8,[13.35]]];
const p2CurveT=[0,2,4,6,8,10,11,11.5,12,12.7,13.3,13.9,14.4,14.9];
const p2CurveV=[.375,.385,.385,.375,.36,.33,.305,.29,.26,.207,.17,.144,.12,.1];
const trCurveT=[0,3,5.9,6.5,7,8,9,10,11,11.5,12,12.5,13,13.5,14,14.5,14.9];
const trCurveV=[.1,.1,.1,.124,.145,.168,.178,.168,.154,.154,.168,.2,.255,.345,.46,.63,.77];
// ---------- panel H
const hCats=['1','2','3'];
const hLow=[.0194,.0187,.0131],hQ1=[.0827,.0941,.0902],hMed=[.1057,.1207,.1217],hQ3=[.1295,.1476,.152],hHigh=[.1949,.2284,.241];
const hOut=[[0,.1993,.2017,.2053,.2078,.2107,.2206,.2284,.232,.2473],[.0099,.2303,.2344,.2381,.2417,.2448,.2575],[.2448,.263,.2688]];
const hSig=['','****','****'];
const hSigLevel=.2744;

// ---------- helpers
const xd=(a,b)=>[a/W,b/W], yd=(a,b)=>[1-b/H,1-a/H];
const layout={width:W,height:H,margin:{l:0,r:0,t:0,b:0},paper_bgcolor:'#fff',plot_bgcolor:'rgba(0,0,0,0)',showlegend:false,barmode:'stack',bargap:.07,font:{family:FONT},annotations:[],shapes:[],
 coloraxis:{cmin:0,cmax:.27,colorscale:[[0,'#03020f'],[.18,'#3a1160'],[.37,'#8a2469'],[.55,'#d3503c'],[.75,'#f59b22'],[.93,'#f8e37e'],[1,'#fdf8b0']],
  colorbar:{x:770/W,xanchor:'left',y:1-824/H,yanchor:'top',len:157,lenmode:'pixels',thickness:30,thicknessmode:'pixels',outlinewidth:0,tickvals:[0,.05,.1,.15,.2,.25],ticktext:['0.00','0.05','0.10','0.15','0.20','0.25'],ticks:'inside',tickcolor:'#fff',ticklen:6,tickfont:{size:16,color:'#222'},xpad:0,ypad:0}},
 coloraxis2:{cmin:0,cmax:14.9,colorscale:[[0,'#132B43'],[1,'#56B1F7']],
  colorbar:{orientation:'h',x:1202/W,xanchor:'left',y:1-462/H,yanchor:'top',len:194,lenmode:'pixels',thickness:28,thicknessmode:'pixels',outlinewidth:0,tickvals:pseudoTicks,ticks:'inside',tickcolor:'#fff',ticklen:8,tickfont:{size:17,color:'#222'},xpad:0,ypad:0}}};
const blank={visible:false,fixedrange:true,showgrid:false,zeroline:false};
function axes(n,xdom,xrange,ydom,yrange,xo={},yo={}){
 const s=n===1?'':n;
 layout['xaxis'+s]={...blank,domain:xd(...xdom),range:xrange,anchor:'y'+s,...xo};
 layout['yaxis'+s]={...blank,domain:yd(...ydom),range:yrange,anchor:'x'+s,...yo};
 return {xaxis:'x'+s,yaxis:'y'+s};
}
const axisStyle=(size,color='#333',lw=2,tl=4)=>({visible:true,showline:true,linecolor:'#222',linewidth:lw,ticks:'outside',ticklen:tl,tickwidth:1.5,tickcolor:'#333',tickfont:{size,color,family:FONT},showgrid:false,zeroline:false,fixedrange:true});
function text(t,x,y,size,o={}){layout.annotations.push({xref:'paper',yref:'paper',x:x/W,y:1-y/H,text:t,showarrow:false,xanchor:o.anchor||'center',yanchor:'middle',textangle:o.angle||0,font:{size,family:o.family||FONT,color:o.color||'#111'}});}
function dot(x,y,r,color){layout.shapes.push({type:'circle',xref:'paper',yref:'paper',x0:(x-r)/W,x1:(x+r)/W,y0:1-(y+r)/H,y1:1-(y-r)/H,fillcolor:color,line:{width:0}});}
function swatch(x0,x1,y0,y1,color){layout.shapes.push({type:'rect',xref:'paper',yref:'paper',x0:x0/W,x1:x1/W,y0:1-y1/H,y1:1-y0/H,fillcolor:color,line:{width:0}});}
function arrow(x0,y0,x1,y1){layout.annotations.push({xref:'paper',yref:'paper',x:x1/W,y:1-y1/H,ax:x0-x1,ay:y0-y1,text:'',showarrow:true,arrowhead:2,arrowsize:1.4,arrowwidth:2.2,arrowcolor:'#231815'});}
const col=(a,i)=>a.map(p=>p[i]);
const traces=[];
function outline(ax,pts,color){traces.push({...ax,x:col(pts,0),y:col(pts,1),mode:'lines',line:{color,width:3.5,dash:'4px,4px',shape:'spline',smoothing:.8},hoverinfo:'skip'});}

// ---------- A
const axA=axes(1,[0,398],[0,800],[0,367],[1100,0]);
mainClusters.forEach((c,i)=>traces.push({...axA,type:'scatter',mode:'markers',x:col(c,0),y:col(c,1),marker:{size:6.2,color:tsneColors[i]}}));
legendA.forEach((l,i)=>{const y=68+i*24.5;dot(460,y,6.5,legendColors[i]);text(l,482,y,19,{anchor:'left',color:'#222'});});

// ---------- B
const axMs1=axes(2,[357,713],[0,800],[403.6,723.7],[1100,0]);
const axMs2=axes(3,[357,724],[0,800],[734,1048.6],[1100,0]);
const axO=axes(4,[0,780],[0,1568],[370,1050],[1568,0]);
const axCb={xaxis:'x4',yaxis:'y5'};
layout.yaxis5={...blank,domain:yd(370,1050),range:[818,-750],anchor:'x4'};
ctrlClusters.forEach((c,i)=>traces.push({...axO,mode:'markers',x:col(c,0),y:col(c,1),marker:{size:5.5,color:ctrlColors[i]}}));
mainClusters.forEach((c,i)=>traces.push({...axMs1,mode:'markers',x:col(c,0),y:col(c,1),marker:{size:6.4,color:tsneColors[i]}}));
ctrlClusters.forEach(c=>traces.push({...axCb,mode:'markers',x:col(c,0),y:col(c,1),marker:{size:7.5,color:col(c,2).map(v=>v/100),coloraxis:'coloraxis'}}));
mainClusters.forEach(c=>traces.push({...axMs2,mode:'markers',x:col(c,0),y:col(c,1),marker:{size:8.5,color:col(c,2).map(v=>v/100),coloraxis:'coloraxis'}}));
outline(axO,outlineCtrlTop,'#5b5ea6');outline(axO,outlineMsTop,'#5b5ea6');outline(axO,outlineCtrlBot,'#5b5ea6');outline(axO,outlineMsBot,'#5b5ea6');
outline(axO,innerCtrlTop,'#1a1a1a');outline(axO,innerMsTop,'#1a1a1a');outline(axO,innerCtrlBot,'#1f78b4');outline(axO,innerMsBot,'#1f78b4');
text('<b>Control</b>',205,391,29);
text('<b>MS</b>',561,391,29);
text('Ferroptosis score',767,809,19.5,{anchor:'left',color:'#222'});
arrow(30,1038,30,903);arrow(30,1038,165,1038);
text('tSNE2',14,964,21,{angle:-90,color:'#222'});text('tSNE1',72,1060,21,{color:'#222'});

// ---------- C
const axC=axes(6,[129,587],[0,1],[1089,1368],[-.6,1.6],{...axisStyle(15,'#555',3.5,1),tickvals:[0,.25,.5,.75,1],ticktext:['0.00','0.25','0.50','0.75','1.00'],title:{text:'Freq',font:{size:17,color:'#222'},standoff:3}},{...axisStyle(22,'#555',2),type:'linear',tickvals:[0,1],ticktext:['MS','Control']});
cStackNames.forEach((n,i)=>traces.push({...axC,type:'bar',orientation:'h',name:n,y:[1,0],x:[cControl[i],cMS[i]],marker:{color:cStackColors[i],line:{color:'#fff',width:1.5}}}));
legendC.forEach((l,i)=>{const y=1104+i*27.5;swatch(615,638,y-11.5,y+11.5,legendColors[i]);text(l,648,y,17.7,{anchor:'left',color:'#222'});});

// ---------- box plot helper
function boxes(ax,horizontal,low,q1,med,q3,high,colors,width,whisker,lw,medLw){
 low.forEach((_,i)=>{
  const o={...ax,type:'box',q1:[q1[i]],median:[med[i]],q3:[q3[i]],lowerfence:[low[i]],upperfence:[high[i]],width,whiskerwidth:whisker,fillcolor:colors[i],line:{color:'#2a2a2a',width:lw},hoverinfo:'skip'};
  if(horizontal){o.orientation='h';o.y=[i];}else{o.x=[i];}
  traces.push(o);
 });
 const mx=[],my=[];
 med.forEach((m,i)=>{if(horizontal){mx.push(m,m,null);my.push(i-width/2,i+width/2,null);}else{mx.push(i-width/2,i+width/2,null);my.push(m,m,null);}});
 traces.push({...ax,mode:'lines',x:mx,y:my,line:{color:'#000',width:medLw},hoverinfo:'skip'});
}

// ---------- D
const axD=axes(7,[864,1231],[-.596,7.6],[4,312],[-.0127,.273],{...axisStyle(15.2),tickvals:dCats.map((_,i)=>i),ticktext:dCats},{...axisStyle(15),tickvals:[0,.1,.2],ticktext:['0.0','0.1','0.2'],title:{text:'Ferroptosis score',font:{size:15.5,color:'#222'},standoff:1}});
boxes(axD,false,dLow,dQ1,dMed,dQ3,dHigh,dColors,.71,.22,1.5,3);
traces.push({...axD,mode:'lines',x:[-.4,7.55],y:[dRef,dRef],line:{color:'#222',width:1.6,dash:'7px,5px'},hoverinfo:'skip'});
traces.push({...axD,mode:'text',x:dSig.map((_,i)=>i),y:dSig.map(s=>s==='ns'?.2535:.2530),text:dSig,textposition:'middle center',textfont:{size:14,color:'#222'},hoverinfo:'skip'});

// ---------- E
const axE=axes(8,[1484,2084],[-.01365,.2841],[52,306],[10.58,-.57],{...axisStyle(16,'#333',2.2),tickvals:[0,.1,.2],ticktext:['0.0','0.1','0.2'],tickangle:45},{...axisStyle(17,'#222',2),tickvals:eCats.map((_,i)=>i),ticktext:eCats});
boxes(axE,true,eLow,eQ1,eMed,eQ3,eHigh,eColors,.72,0,1.8,2.6);
{const ox=[],oy=[];eOut.forEach((a,i)=>a.forEach(v=>{ox.push(v);oy.push(i);}));
 traces.push({...axE,mode:'markers',x:ox,y:oy,marker:{size:7,color:'#000'},hoverinfo:'skip'});}
traces.push({...axE,mode:'lines',x:[eRef,eRef],y:[-.55,10.5],line:{color:'#000',width:2,dash:'4px,4px'},hoverinfo:'skip'});
traces.push({...axE,mode:'text',x:eSig.map(()=>.27),y:eSigRows,text:eSig,textposition:'middle center',textfont:{size:14,color:'#222'},hoverinfo:'skip'});
text('Ferroptosis score',1743,352,16.5,{color:'#222'});

// ---------- F
const axF1=axes(9,[880,1518],[0,801.3],[400,870],[1410,0]);
const axF2=axes(10,[1518,2126],[0,763.6],[392,884],[1410,0]);
[stem,rightArm,leftArm].forEach(a=>traces.push({...axF1,mode:'markers',x:col(a,0),y:col(a,1),marker:{size:15,color:col(a,2),coloraxis:'coloraxis2'}}));
[stem,rightArm,leftArm].forEach((a,i)=>traces.push({...axF2,mode:'markers',x:col(a,0),y:col(a,1),marker:{size:13,color:[branchColors[0],branchColors[2],branchColors[1]][i]}}));
function curved(ax,pts){traces.push({...ax,mode:'lines+markers',x:col(pts,0),y:col(pts,1),line:{color:'#231815',width:3.5,shape:'spline',smoothing:1},marker:{symbol:'arrow',angleref:'previous',size:pts.map((_,i)=>i===pts.length-1?28:0),color:'#231815',line:{width:0}},hoverinfo:'skip'});}
curved(axF1,arrowL1);curved(axF1,arrowL2);curved(axF2,arrowR1);curved(axF2,arrowR2);
text('Pseudotime',1124,477,23,{color:'#222'});
text('Branch',1716,473,22,{color:'#222'});
[[1785,1822],[1858,1893],[1929,1964]].forEach((p,i)=>{dot(p[0],472,4,branchColors[i]);text(String(i+1),p[1],473,18,{color:'#222'});});
arrow(1004,841,1004,705);arrow(1004,841,1139,841);
text('Component2',986,775,20,{angle:-90,color:'#222'});text('Component1',1072,858,21,{color:'#222'});

// ---------- G
function rows(ax,rowset,color){const xs=[],ys=[];rowset.forEach(([lvl,a])=>a.forEach(t=>{xs.push(t);ys.push(lvl);}));traces.push({...ax,mode:'markers',x:xs,y:ys,marker:{size:7.5,color},hoverinfo:'skip'});}
const gLog={...axisStyle(18,'#555',2),type:'log',tickvals:[.1,1,10],ticktext:['0.1','1.0','10.0']};
const axG1=axes(11,[1004,1566.6],[-.727,15.63],[995,1136.7],[-1.106,1.133],{},gLog);
const axG2=axes(12,[1004,1566.6],[-.727,15.63],[1178,1320],[-1.11,1.101],{...axisStyle(18,'#555',2,2),tickvals:[0,5,10,15]},gLog);
rows(axG1,p2Branch1,branchColors[0]);rows(axG1,p2Branch3,branchColors[2]);rows(axG1,p2Branch2,branchColors[1]);
rows(axG2,trBranch1,branchColors[0]);rows(axG2,trBranch3,branchColors[2]);rows(axG2,trBranch2,branchColors[1]);
traces.push({...axG1,mode:'lines',x:p2CurveT,y:p2CurveV,line:{color:'#000',width:2.4,shape:'spline'},hoverinfo:'skip'});
traces.push({...axG2,mode:'lines',x:trCurveT,y:trCurveV,line:{color:'#000',width:2.4,shape:'spline'},hoverinfo:'skip'});
text('<i>P2RY12</i>',1298,977,22,{color:'#222'});text('<i>TREM2</i>',1298,1160,22,{color:'#222'});
text('Relative Expression',946,1157,20,{angle:-90,color:'#222'});
text('Branch',1598,1106,19,{color:'#222'});
[1140,1171,1203].forEach((y,i)=>{dot(1582,y,3.5,branchColors[i]);text(String(i+1),1613,y,18,{color:'#222'});});
text('Pseudo\u2212time',1285,1357,20,{color:'#222'});

// ---------- H
const axH=axes(13,[1746.7,1931.7],[-.591,2.6],[936,1342.7],[-.0136,.2822],{...axisStyle(15,'#333',2,2),tickvals:[0,1,2],ticktext:hCats},{...axisStyle(15.5),tickvals:[0,.1,.2],ticktext:['0.0','0.1','0.2'],title:{text:'Ferroptosis score',font:{size:19,color:'#222'},standoff:4}});
boxes(axH,false,hLow,hQ1,hMed,hQ3,hHigh,branchColors,.72,0,1.8,3.4);
{const ox=[],oy=[];hOut.forEach((a,i)=>a.forEach(v=>{ox.push(i);oy.push(v);}));
 traces.push({...axH,mode:'markers',x:ox,y:oy,marker:{size:7.5,color:'#000'},hoverinfo:'skip'});}
traces.push({...axH,mode:'text',x:[0,1,2],y:hSig.map(()=>hSigLevel-.003),text:hSig,textposition:'middle center',textfont:{size:15,color:'#222'},hoverinfo:'skip'});
text('Branch',1836,1376,17,{color:'#222'});

// ---------- panel letters
[['(A)',30,23],['(B)',30,393],['(C)',28,1100],['(D)',782,23],['(E)',1278,23],['(F)',912,431],['(G)',924,962],['(H)',1686,930]].forEach(([t,x,y])=>text('<b>'+t+'</b>',x,y,33,{color:'#000'}));

Plotly.newPlot('c',traces,layout,{staticPlot:true,displayModeBar:false});
</script></body></html>
